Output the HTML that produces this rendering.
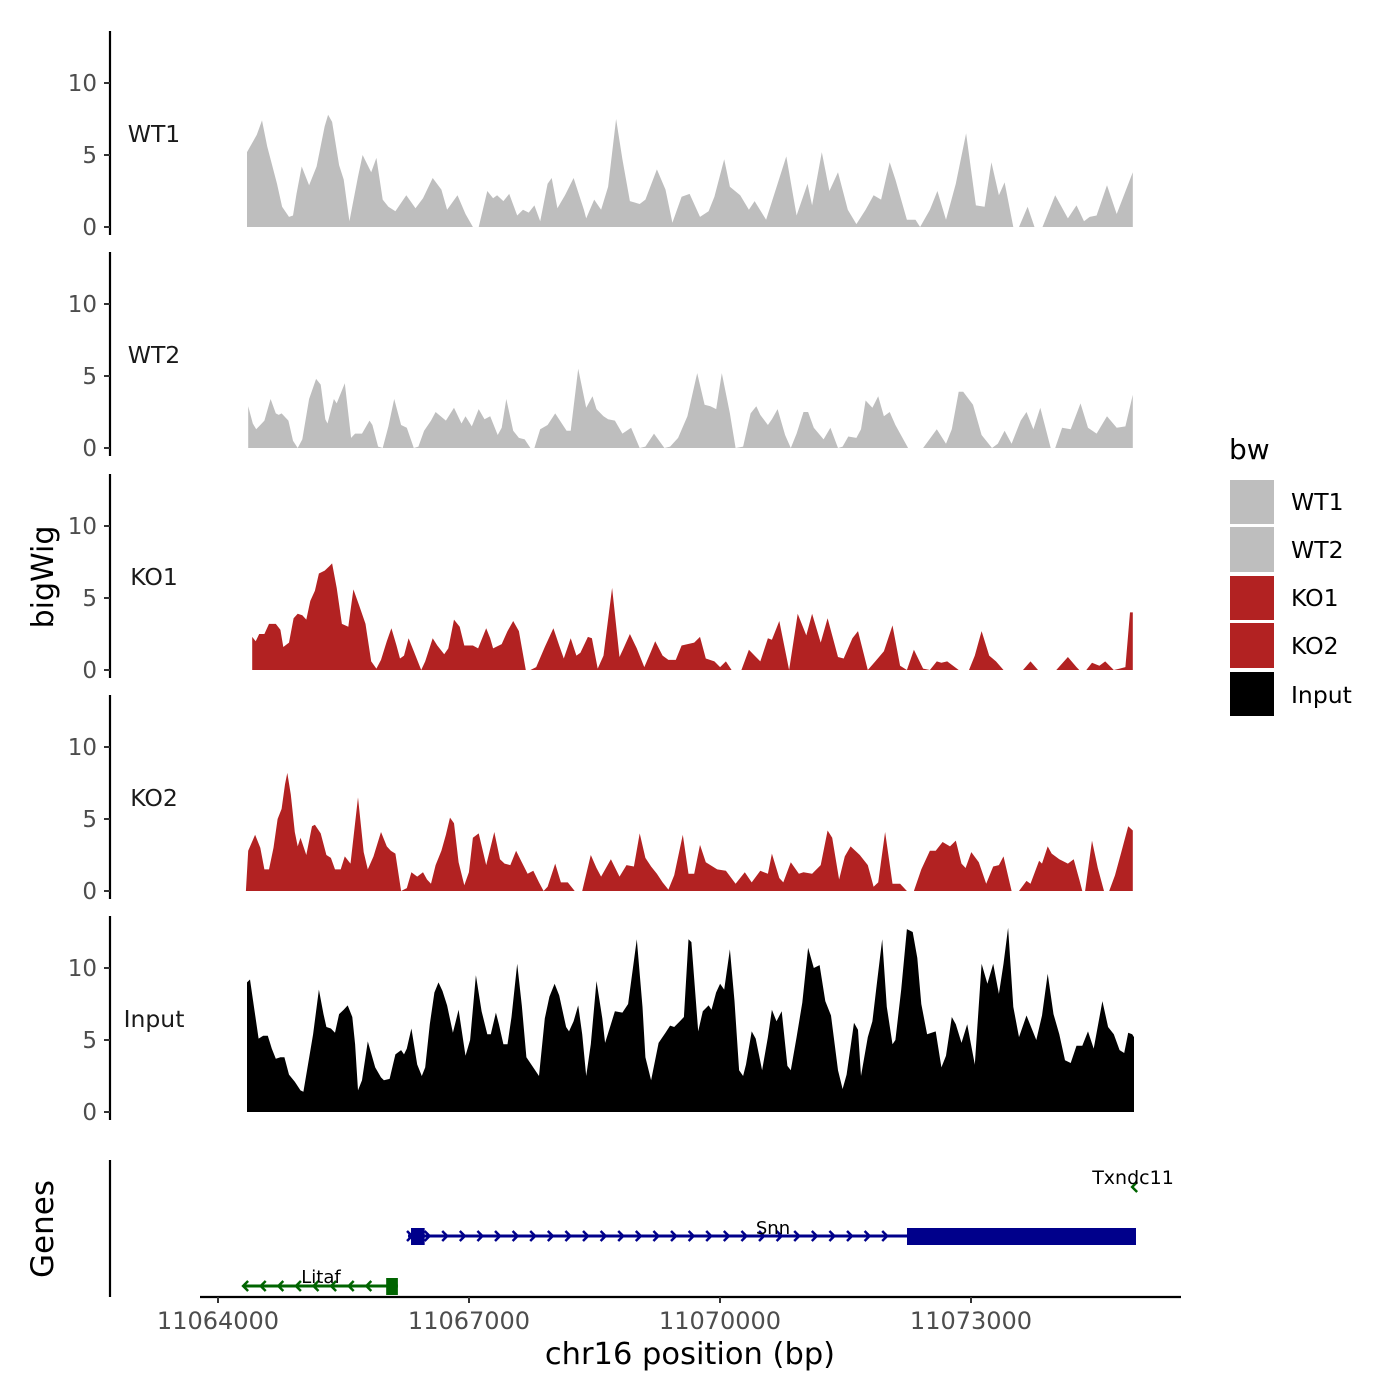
<!DOCTYPE html>
<html><head><meta charset="utf-8"><style>
html,body{margin:0;padding:0;background:#fff;}
svg{display:block;font-family:"DejaVu Sans","Liberation Sans",sans-serif;}
</style></head><body>
<svg id="chart" width="1400" height="1400" viewBox="0 0 1400 1400" xmlns="http://www.w3.org/2000/svg">
<rect width="1400" height="1400" fill="#fff"/>
<g id="panels"></g>
<g id="genes"></g>
<text x="0" y="0" transform="translate(53,577) rotate(-90)" text-anchor="middle" font-size="30" fill="#000">bigWig</text>
<text x="0" y="0" transform="translate(53,1229) rotate(-90)" text-anchor="middle" font-size="31" fill="#000">Genes</text>
<text x="690" y="1364" text-anchor="middle" font-size="30.5" fill="#000">chr16 position (bp)</text>
<g>
<text x="1229" y="459" font-size="28" fill="#000">bw</text>
<rect x="1230" y="480" width="44" height="44" fill="#bebebe"/>
<text x="1291" y="510" font-size="23.5">WT1</text>
<rect x="1230" y="527" width="44" height="45" fill="#bebebe"/>
<text x="1291" y="558" font-size="23.5">WT2</text>
<rect x="1230" y="576" width="44" height="44" fill="#b22222"/>
<text x="1291" y="606" font-size="23.5">KO1</text>
<rect x="1230" y="623" width="44" height="45" fill="#b22222"/>
<text x="1291" y="654" font-size="23.5">KO2</text>
<rect x="1230" y="672" width="44" height="44" fill="#000"/>
<text x="1291" y="703" font-size="23.5">Input</text>
</g>
</svg>
<script>
// positions: bp offset from 11064000
const BASE = 11064000;
const wt1Pos = [347,464,526,588,705,766,849,897,938,1000,1089,1179,1275,1316,1364,1447,1502,1570,1673,1728,1831,1893,1969,2037,2120,2250,2360,2450,2566,2670,2738,2862,2958,3047,3116,3219,3288,3336,3411,3480,3576,3645,3714,3782,3851,3940,3989,4057,4147,4250,4373,4401,4497,4579,4662,4758,4834,4923,5040,5108,5246,5349,5431,5541,5637,5761,5864,5933,6050,6118,6242,6345,6414,6551,6688,6792,6915,7046,7101,7217,7307,7410,7527,7630,7740,7836,7925,8028,8097,8234,8337,8392,8509,8598,8701,8818,8942,9059,9162,9244,9333,9402,9505,9574,9676,9759,9855,10006,10158,10261,10350,10419,10501,10625,10741,10934];
const wt1Val = [5.2,6.4,7.4,5.6,3.0,1.4,0.7,0.8,2.3,4.2,2.9,4.2,7.0,7.8,7.3,4.3,3.3,0.4,3.5,5.0,3.8,4.8,1.9,1.4,1.1,2.2,1.3,2.0,3.4,2.6,1.2,2.2,0.9,0,0,2.5,2.0,2.2,1.8,2.3,0.8,1.2,1.0,1.5,0.4,3.0,3.4,1.3,2.2,3.4,1.2,0.6,1.9,1.2,2.8,7.5,4.7,1.8,1.6,1.9,4.0,2.6,0.3,2.1,2.3,0.7,1.1,2.1,4.7,2.8,2.2,1.2,1.8,0.5,3.0,4.9,0.8,3.0,1.5,5.2,2.5,3.8,1.2,0.2,1.2,2.2,1.9,4.5,3.3,0.5,0.5,0,1.2,2.5,0.5,3.0,6.5,1.5,1.4,4.5,2.2,3.1,0,0,1.4,0,0,2.2,0.6,1.5,0.4,0.7,0.8,2.9,0.9,3.8];
const wt2Pos = [361,416,457,505,554,629,691,725,760,842,897,952,1007,1089,1172,1227,1282,1309,1385,1419,1515,1591,1639,1721,1811,1845,1914,1969,2037,2106,2189,2257,2340,2395,2463,2546,2601,2724,2821,2910,2958,3034,3116,3185,3253,3343,3391,3446,3528,3597,3666,3734,3782,3851,3940,4030,4167,4215,4305,4401,4476,4524,4607,4662,4744,4834,4937,5040,5108,5211,5335,5404,5499,5610,5727,5816,5885,5954,6022,6118,6187,6276,6366,6434,6482,6572,6620,6688,6778,6846,6915,6998,7053,7121,7238,7320,7410,7465,7533,7630,7685,7740,7822,7891,7959,8028,8097,8248,8427,8591,8701,8770,8853,8907,9024,9127,9251,9320,9402,9485,9594,9663,9746,9828,9952,10006,10089,10192,10309,10398,10501,10625,10741,10845,10934];
const wt2Val = [2.9,1.7,1.3,1.6,1.9,3.4,2.4,2.3,2.4,1.9,0.5,0,0.6,3.4,4.8,4.4,2.0,1.7,3.4,3.1,4.5,0.7,1.0,1.0,1.9,1.6,0.1,0,1.5,3.4,1.6,1.4,0,0.1,1.2,1.9,2.5,1.9,2.8,1.7,2.2,1.5,2.7,2.0,2.2,0.9,1.4,3.4,1.2,0.7,0.6,0,0,1.3,1.6,2.4,1.2,1.2,5.5,2.8,3.6,2.7,2.2,2.0,1.9,1.0,1.4,0,0.1,1.0,0,0.1,0.7,2.2,5.2,3.0,2.9,2.7,5.2,2.4,0,0.1,2.4,2.9,2.3,1.6,2.0,2.7,0.9,0,1.0,2.5,2.5,1.4,0.6,1.4,0,0.1,0.8,0.7,1.3,3.3,2.8,3.6,2.2,2.5,1.6,0,0,1.3,0.3,1.3,3.9,3.9,3.0,0.9,0,0.3,1.2,0.3,1.9,2.5,1.3,2.8,0,0,1.4,1.3,3.1,1.4,1.0,2.2,1.4,1.5,3.7];
const ko1Pos = [409,450,492,554,609,691,746,780,849,904,952,1007,1055,1103,1158,1206,1275,1330,1364,1419,1481,1557,1618,1687,1763,1831,1893,1948,2017,2072,2134,2175,2223,2278,2340,2429,2477,2566,2621,2704,2752,2821,2889,2944,3047,3109,3205,3253,3288,3391,3460,3528,3597,3679,3734,3803,3906,4009,4078,4133,4215,4284,4332,4421,4469,4538,4607,4710,4799,4847,4923,5005,5095,5177,5225,5314,5383,5472,5541,5692,5761,5830,5933,6001,6070,6139,6256,6345,6414,6482,6572,6620,6709,6826,6929,7032,7101,7204,7286,7410,7479,7582,7650,7767,7856,7959,8062,8152,8234,8317,8427,8509,8591,8646,8715,8853,8976,9045,9127,9217,9299,9388,9622,9711,9801,10020,10158,10261,10295,10378,10446,10535,10604,10707,10776,10845,10900,10934];
const ko1Val = [2.3,2.0,2.5,2.5,3.2,3.2,2.8,1.6,1.9,3.6,3.9,3.8,3.5,4.8,5.5,6.7,6.9,7.2,7.4,5.7,3.2,3.0,5.6,4.5,3.2,0.6,0.1,0.7,2.0,2.9,1.7,0.8,1.0,2.2,1.3,0,0.6,2.2,1.7,1.1,1.5,3.5,3.0,1.7,1.7,1.5,2.9,2.2,1.5,1.8,2.7,3.4,2.7,0,0,0.2,1.6,2.9,1.7,0.8,2.2,1.0,1.2,2.3,2.2,0.1,1.0,5.7,0.9,1.5,2.5,1.5,0.2,1.3,2.0,1.0,0.7,0.7,1.7,1.9,2.3,0.8,0.6,0.2,0.6,0,0,1.4,1.0,0.6,2.2,2.1,3.4,0,3.9,2.4,3.9,1.9,3.6,0.9,0.8,2.2,2.7,0,0.6,1.3,3.1,0.3,0,1.4,0.1,0,0.6,0.5,0.6,0,0,1.0,2.7,1.0,0.6,0,0,0.6,0,0,0.9,0.2,0,0,0.5,0.3,0.6,0,0.1,0.2,4.0,4.0];
const ko2Pos = [334,361,444,505,554,609,663,712,760,801,828,870,918,952,986,1055,1124,1158,1227,1296,1350,1399,1467,1515,1584,1673,1742,1790,1859,1948,2017,2065,2120,2189,2257,2312,2381,2450,2498,2546,2601,2670,2724,2773,2821,2876,2944,2999,3047,3116,3205,3302,3370,3425,3494,3563,3631,3700,3769,3837,3892,3940,4030,4098,4181,4263,4353,4456,4524,4579,4696,4799,4882,4971,5040,5108,5177,5246,5314,5383,5452,5555,5624,5692,5761,5830,5967,6070,6187,6297,6379,6482,6572,6620,6709,6757,6846,6943,6998,7101,7204,7286,7341,7424,7492,7561,7671,7767,7836,7891,7973,8062,8152,8234,8317,8406,8509,8578,8660,8749,8818,8887,8935,9004,9093,9182,9265,9333,9388,9485,9574,9663,9711,9814,9849,9917,9965,10055,10158,10227,10295,10330,10364,10446,10515,10590,10652,10721,10797,10879,10934];
const ko2Val = [0,2.8,3.9,3.0,1.5,1.5,3.0,5.0,5.7,7.4,8.2,6.7,4.1,3.1,3.7,2.5,4.5,4.6,4.0,2.5,2.3,1.5,1.5,2.4,1.9,6.5,2.7,1.5,2.4,4.1,3.1,2.8,2.6,0,0.2,1.3,1.0,1.3,0.8,0.5,1.8,2.8,3.9,5.1,4.7,2.0,0.4,1.3,3.7,4.0,1.8,4.1,2.2,1.9,1.8,2.8,2.0,1.2,1.4,0.6,0,0.3,1.9,0.6,0.6,0,0,2.5,1.6,1.0,2.2,1.0,1.8,1.7,4.0,2.3,1.7,1.2,0.6,0.1,1.1,3.9,1.2,1.2,3.2,2.0,1.5,1.4,0.5,1.3,0.6,1.4,1.2,2.6,0.9,0.6,2.0,1.2,1.3,1.2,1.8,4.2,3.7,0.8,2.4,3.1,2.5,1.8,0.3,0.6,4.1,0.5,0.5,0,0,1.5,2.8,2.8,3.4,3.1,3.5,1.9,1.6,2.7,2.0,0.5,1.7,1.8,2.4,0,0,0.7,0.5,2.1,1.9,3.1,2.6,2.2,1.9,2.2,0.8,0,0,3.5,1.6,0,0,1.1,2.7,4.5,4.2];
const inputPos = [347,382,437,485,540,595,643,691,746,794,849,918,986,1021,1076,1137,1206,1261,1296,1350,1399,1447,1502,1550,1605,1639,1673,1721,1790,1879,1948,1983,2051,2120,2189,2223,2257,2312,2381,2436,2477,2532,2587,2635,2683,2738,2807,2876,2958,3013,3082,3150,3219,3260,3322,3357,3411,3460,3508,3576,3631,3686,3755,3837,3906,3961,4023,4078,4160,4195,4250,4305,4353,4401,4456,4524,4593,4627,4696,4744,4834,4902,5005,5074,5108,5177,5266,5349,5404,5452,5521,5569,5624,5658,5740,5795,5864,5898,5953,6001,6050,6118,6173,6228,6276,6311,6379,6427,6503,6572,6620,6675,6737,6805,6846,6915,6984,7053,7121,7190,7259,7327,7410,7465,7513,7602,7650,7685,7767,7822,7877,7939,7994,8062,8097,8166,8234,8303,8358,8406,8475,8578,8646,8701,8770,8818,8887,8955,9045,9127,9196,9265,9333,9388,9443,9505,9574,9663,9780,9849,9917,9986,10055,10123,10192,10261,10330,10398,10467,10570,10639,10707,10776,10831,10879,10927,10948];
const inputVal = [9.0,9.2,7.0,5.1,5.3,5.3,4.4,3.7,3.8,3.8,2.6,2.1,1.5,1.4,3.3,5.4,8.5,6.8,5.9,5.8,5.5,6.8,7.1,7.4,6.6,4.7,1.5,2.2,4.9,3.1,2.4,2.2,2.3,4.0,4.3,4.0,4.4,5.8,3.3,2.5,3.1,6.1,8.3,9.0,8.4,7.4,5.5,7.1,3.9,5.0,9.5,7.0,5.4,5.4,6.9,6.1,4.7,4.7,6.6,10.3,7.4,3.8,3.2,2.5,6.5,8.0,8.9,8.1,5.9,5.6,6.3,7.4,5.4,2.5,4.7,9.1,6.5,4.8,6.1,7.0,6.9,7.5,12.0,7.3,3.8,2.2,4.8,5.5,6.0,5.9,6.3,6.6,12.0,11.8,5.6,7.0,7.4,7.1,8.3,8.9,8.5,11.3,7.7,2.9,2.5,3.3,5.6,5.1,2.9,5.2,7.1,6.3,7.0,3.2,2.9,5.2,7.6,11.4,10.0,10.2,7.7,6.7,2.9,1.6,2.6,6.2,5.7,2.5,5.2,6.3,9.0,12.0,7.3,4.7,5.0,8.5,12.7,12.5,10.7,7.5,5.4,5.6,3.1,3.9,6.6,6.1,4.8,6.1,3.3,10.3,8.9,10.3,8.2,10.3,12.8,7.3,5.2,6.7,5.0,6.7,9.6,6.8,5.4,3.6,3.4,4.6,4.6,5.6,4.4,7.7,5.9,5.4,4.3,4.1,5.5,5.4,5.2];
const trackNames = ["WT1","WT2","KO1","KO2","Input"];
const yTicks = [0,5,10];
const xTicks = [11064000,11067000,11070000,11073000];

const NS="http://www.w3.org/2000/svg";
function el(tag, attrs, parent){const e=document.createElementNS(NS,tag);for(const k in attrs)e.setAttribute(k,attrs[k]);parent.appendChild(e);return e;}
function xScale(bp){return 218+(bp-BASE)*251/3000;}
const panelTop=[31,252,474,695,916];
const tracks=[[wt1Pos,wt1Val,"#bebebe"],[wt2Pos,wt2Val,"#bebebe"],[ko1Pos,ko1Val,"#b22222"],[ko2Pos,ko2Val,"#b22222"],[inputPos,inputVal,"#000"]];
const panels=document.getElementById("panels");
tracks.forEach((t,i)=>{
  const top=panelTop[i], y0=top+196, unit=14.4;
  const yScale=v=>y0-v*unit;
  const g=el("g",{},panels);
  
  
  const [pos,val,col]=t;
  let d="M"+xScale(BASE+pos[0]).toFixed(1)+","+y0;
  for(let k=0;k<pos.length;k++) d+=" L"+xScale(BASE+pos[k]).toFixed(1)+","+yScale(val[k]).toFixed(1);
  d+=" L"+xScale(BASE+pos[pos.length-1]).toFixed(1)+","+y0+" Z";
  const area=el("path",{d:d,fill:col},g);
  
  
  const ax=el("line",{x1:110,y1:top,x2:110,y2:top+204,stroke:"#000","stroke-width":2.2},g);
  
  
  yTicks.forEach(v=>{
    const ty=yScale(v);
    const tk=el("line",{x1:104,y1:ty,x2:110,y2:ty,stroke:"#333","stroke-width":2},g);
    
    
    const tl=el("text",{x:97,y:ty+8,"text-anchor":"end","font-size":"23",fill:"#4d4d4d"},g);
    tl.textContent=v;
    
    
  });
  const lb=el("text",{x:154,y:top+111,"text-anchor":"middle","font-size":"23.5",fill:"#1a1a1a"},g);
  lb.textContent=trackNames[i];
  
  
});
// genes panel
const gg=document.getElementById("genes");
function chevrons(x1,x2,y,dir,col,step){
  for(let x=x1;x<=x2;x+=step){
    const p=dir>0?`M${x-3},${y-5} L${x+2},${y} L${x-3},${y+5}`:`M${x+3},${y-5} L${x-2},${y} L${x+3},${y+5}`;
    const c=el("path",{d:p,fill:"none",stroke:col,"stroke-width":2.5},gg);
    
    
  }
}
const genesAxis=el("line",{x1:110,y1:1160,x2:110,y2:1297,stroke:"#000","stroke-width":2.2},gg);


// Snn
const snnStart=11066271, snnCdsEnd=11066470, snnUtr=11072235, snnEnd=11074972;
const sl=el("line",{x1:xScale(snnStart),y1:1236,x2:xScale(snnEnd),y2:1236,stroke:"#00008b","stroke-width":3},gg);


const sb1=el("rect",{x:xScale(snnStart)+3,y:1228,width:xScale(snnCdsEnd)-xScale(snnStart)-3,height:17,fill:"#00008b"},gg);


const sb2=el("rect",{x:xScale(snnUtr),y:1228,width:xScale(snnEnd)-xScale(snnUtr),height:17,fill:"#00008b"},gg);


chevrons(xScale(snnStart)+2,xScale(snnUtr)-5,1236,1,"#00008b",17.6);
const st=el("text",{x:773,y:1234,"text-anchor":"middle","font-size":"18","fill":"#000"},gg);
st.textContent="Snn";


// Litaf
const litStart=11064300, litBox=11066010, litEnd=11066150;
const ll=el("line",{x1:xScale(litStart),y1:1286,x2:xScale(litEnd),y2:1286,stroke:"#006400","stroke-width":3},gg);


const lbx=el("rect",{x:xScale(litBox),y:1278,width:xScale(litEnd)-xScale(litBox),height:17,fill:"#006400"},gg);


chevrons(xScale(litStart)+2,xScale(litBox)-8,1286,-1,"#006400",17.6);
const lt=el("text",{x:321,y:1283,"text-anchor":"middle","font-size":"18",fill:"#000"},gg);
lt.textContent="Litaf";


// Txndc11
chevrons(xScale(11074950),xScale(11074950),1187,-1,"#006400",10);
const tt=el("text",{x:1133,y:1184,"text-anchor":"middle","font-size":"19",fill:"#000"},gg);
tt.textContent="Txndc11";


// x axis
const xa=el("line",{x1:200,y1:1297,x2:1181,y2:1297,stroke:"#000","stroke-width":2.2},gg);


xTicks.forEach(v=>{
  const x=xScale(v);
  const tk=el("line",{x1:x,y1:1297,x2:x,y2:1303,stroke:"#333","stroke-width":2},gg);
  
  
  const tl=el("text",{x:x,y:1329,"text-anchor":"middle","font-size":"24",fill:"#4d4d4d"},gg);
  tl.textContent=v;
  
  
});
</script>
</body></html>
